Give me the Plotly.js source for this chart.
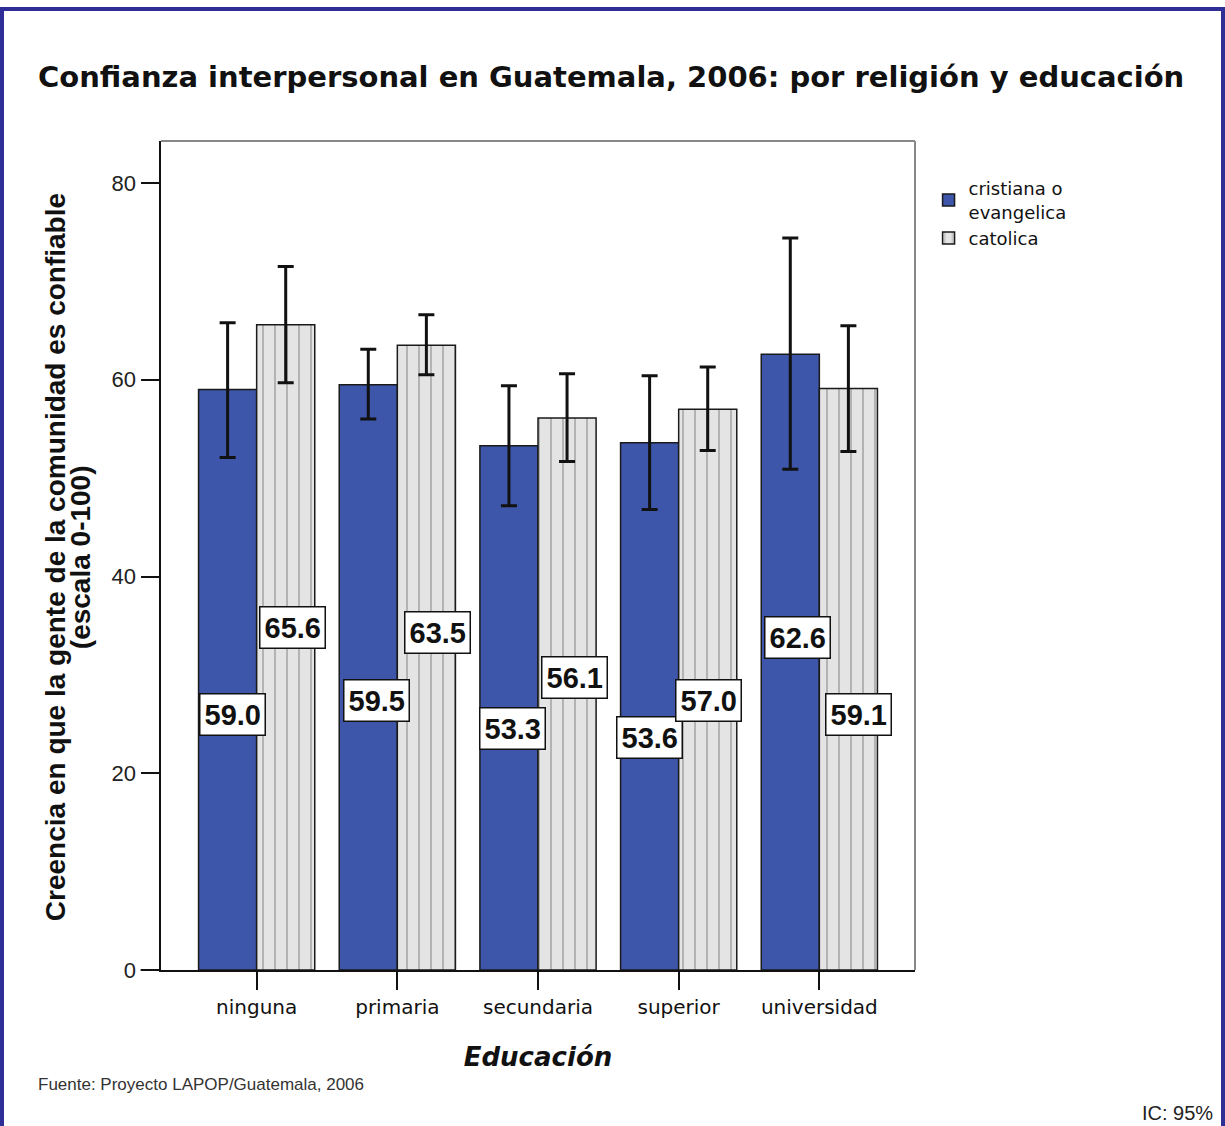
<!DOCTYPE html>
<html>
<head>
<meta charset="utf-8">
<script src="https://cdn.plot.ly/plotly-3.0.1.min.js"></script>
<style>
  html, body { margin: 0; padding: 0; background: #ffffff; }
  #wrap { position: relative; width: 1225px; height: 1126px; overflow: hidden; }
  #frame { position: absolute; left: 0; top: 7px; width: 1217px; height: 1130px;
           border: 4px solid #2E2E96; border-bottom: none; pointer-events: none; }
  #chart { position: absolute; left: 0; top: 0; width: 1225px; height: 1126px; }
</style>
</head>
<body>
<div id="wrap">
  <div id="chart"></div>
  <div id="frame"></div>
</div>
<script>
// ---- data ----
const categories = ["ninguna", "primaria", "secundaria", "superior", "universidad"];
const seriesNames = ["cristiana o<br>evangelica", "catolica"];
const cristianaMean  = [59.0, 59.5, 53.3, 53.6, 62.6];
const cristianaUpper = [65.8, 63.1, 59.4, 60.4, 74.4];
const cristianaLower = [52.1, 56.0, 47.2, 46.8, 50.9];
const catolicaMean   = [65.6, 63.5, 56.1, 57.0, 59.1];
const catolicaUpper  = [71.5, 66.6, 60.6, 61.3, 65.5];
const catolicaLower  = [59.7, 60.5, 51.7, 52.8, 52.7];
const yTicks = [0, 20, 40, 60, 80];
const yTitleLines = ["Creencia en que la gente de la comunidad es confiable", "(escala 0-100)"];

// ---- label placement (layout only) ----
const labelFrac = [[0.44, 0.53], [0.46, 0.54], [0.46, 0.53], [0.44, 0.48], [0.54, 0.44]];
const labelXShift = [[5, 7], [8, 11], [3, 7], [0, 1], [7, 10]];

const blue = "#3D56A9";
const gray = "#E4E4E4";

function errs(mean, up, lo) {
  return {
    type: "data", symmetric: false,
    array: mean.map((m, i) => up[i] - m),
    arrayminus: mean.map((m, i) => m - lo[i]),
    color: "#111111", thickness: 3, width: 8
  };
}

const traces = [
  {
    type: "bar", name: seriesNames[0], x: categories, y: cristianaMean,
    marker: { color: blue, line: { color: "#1a1a1a", width: 1.5 } },
    error_y: errs(cristianaMean, cristianaUpper, cristianaLower),
    hoverinfo: "x+y"
  },
  {
    type: "bar", name: seriesNames[1], x: categories, y: catolicaMean,
    marker: { color: gray, line: { color: "#1a1a1a", width: 1.5 },
              pattern: { shape: "|", size: 12, solidity: 0.09, fgcolor: "#8a8a8a", bgcolor: gray, fillmode: "replace" } },
    error_y: errs(catolicaMean, catolicaUpper, catolicaLower),
    hoverinfo: "x+y"
  }
];

const annotations = [];
categories.forEach((c, i) => {
  [cristianaMean, catolicaMean].forEach((arr, s) => {
    annotations.push({
      x: c, y: arr[i] * labelFrac[i][s], xref: "x", yref: "y",
      text: arr[i].toFixed(1), showarrow: false,
      xshift: (s === 0 ? -29 : 29) + labelXShift[i][s],
      font: { family: "Liberation Sans, Arial, sans-serif", size: 29, color: "#111111", weight: "bold" },
      bgcolor: "#ffffff", bordercolor: "#111111", borderwidth: 1.5, borderpad: 4
    });
  });
});

// y-axis title, two lines set close together as in the reference
[-0.1406, -0.1074].forEach((px, k) => {
  annotations.push({
    xref: "paper", yref: "paper", x: px, y: 0.498, xanchor: "center", yanchor: "middle",
    text: yTitleLines[k], showarrow: false, textangle: -90,
    font: { family: "Liberation Sans, Arial, sans-serif", size: 28, color: "#111111", weight: "bold" }
  });
});

annotations.push({
  xref: "paper", yref: "paper", x: -0.166, y: -0.138, xanchor: "left", yanchor: "middle",
  text: "Fuente: Proyecto LAPOP/Guatemala, 2006", showarrow: false,
  font: { family: "Liberation Sans, Arial, sans-serif", size: 17, color: "#333333" }
});
annotations.push({
  xref: "paper", yref: "paper", x: 1.398, y: -0.172, xanchor: "right", yanchor: "middle",
  text: "IC: 95%", showarrow: false,
  font: { family: "Liberation Sans, Arial, sans-serif", size: 20, color: "#222222" }
});

const layout = {
  width: 1225, height: 1126,
  margin: { l: 161, r: 310, t: 141, b: 156 },
  paper_bgcolor: "#ffffff", plot_bgcolor: "#ffffff",
  title: {
    text: "Confianza interpersonal en Guatemala, 2006: por religión y educación",
    x: 0.031, xanchor: "left", y: 0.932, yanchor: "middle",
    font: { family: "DejaVu Sans, Verdana, sans-serif", size: 29, color: "#111111", weight: "bold" }
  },
  barmode: "group", bargap: 0.174, bargroupgap: 0,
  showlegend: true,
  legend: {
    x: 1.018, y: 0.965, xanchor: "left", yanchor: "top",
    font: { family: "DejaVu Sans, Verdana, sans-serif", size: 18, color: "#111111" },
    bgcolor: "rgba(0,0,0,0)", tracegroupgap: 10, itemwidth: 30
  },
  xaxis: {
    type: "category", range: [-0.68, 4.68],
    showline: true, linecolor: "#111111", linewidth: 2,
    ticks: "outside", ticklen: 18, tickwidth: 2, tickcolor: "#111111",
    tickfont: { family: "DejaVu Sans, Verdana, sans-serif", size: 20, color: "#111111" },
    title: { text: "<i>Educación</i>", standoff: 30,
             font: { family: "DejaVu Sans, Verdana, sans-serif", size: 26, color: "#111111", weight: "bold" } },
    showgrid: false, zeroline: false, fixedrange: true
  },
  yaxis: {
    range: [0, 84.27], tickvals: yTicks, ticktext: yTicks.map(String),
    showline: true, linecolor: "#111111", linewidth: 2.5,
    ticks: "outside", ticklen: 18, tickwidth: 2, tickcolor: "#111111",
    tickfont: { family: "Liberation Sans, Arial, sans-serif", size: 22, color: "#222222" },
    showgrid: false, zeroline: false, fixedrange: true
  },
  shapes: [
    { type: "line", xref: "paper", yref: "paper", x0: 0, x1: 1, y0: 1, y1: 1, line: { color: "#888888", width: 2 } },
    { type: "line", xref: "paper", yref: "paper", x0: 1, x1: 1, y0: 0, y1: 1, line: { color: "#888888", width: 2 } },
    { type: "line", xref: "paper", yref: "paper", x0: -0.027, x1: 0, y0: 0, y1: 0, line: { color: "#111111", width: 2 } }
  ],
  annotations: annotations
};

Plotly.newPlot("chart", traces, layout, { displayModeBar: false, staticPlot: true });
</script>
</body>
</html>
